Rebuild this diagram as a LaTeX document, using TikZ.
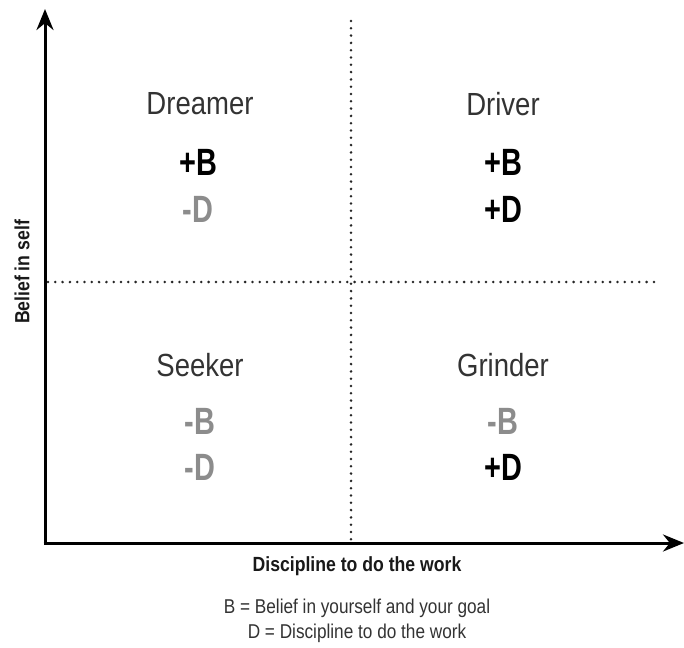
\documentclass[tikz,border=0pt]{standalone}
\usepackage{fontspec}
\setmainfont[FakeStretch=0.86]{Liberation Sans}
\newfontfamily\boldcond[FakeStretch=0.76]{Liberation Sans Bold}
\usetikzlibrary{arrows.meta}
\definecolor{txtdark}{HTML}{333333}
\definecolor{txtgray}{HTML}{8C8C8C}
\begin{document}
\begin{tikzpicture}[x=1pt,y=-1pt,
  axis/.style={line width=3pt,draw=black,-{Stealth[length=21pt,width=17pt]}},
  divider/.style={line width=2.8pt,draw=black!85,line cap=round,dash pattern=on 0pt off 7.3pt},
  quadname/.style={font=\fontsize{32}{34}\selectfont,text=txtdark,inner sep=0pt},
  plustext/.style={font=\boldcond\fontsize{38}{39}\selectfont,text=black,inner sep=0pt},
  minustext/.style={font=\boldcond\fontsize{38}{39}\selectfont,text=txtgray,inner sep=0pt},
  axlabel/.style={font=\bfseries\fontsize{20.5}{21}\selectfont,text=black!90,inner sep=0pt},
  legend/.style={font=\fontsize{20}{25}\selectfont,text=txtdark,inner sep=0pt,align=center}]
\useasboundingbox (0,0) rectangle (684,647);
\fill[white] (0,0) rectangle (684,647);
% coordinates
\coordinate (origin) at (45,543);
\coordinate (ytip) at (45,9);
\coordinate (xtip) at (684,543);
\coordinate (vtop) at (351,21);
\coordinate (vbot) at (351,540);
\coordinate (hleft) at (48,282);
\coordinate (hright) at (658,282);
% dividers
\draw[divider] (vtop) -- (vbot);
\draw[divider] (hleft) -- (hright);
% axes
\draw[axis] (origin) -- (ytip);
\draw[axis] ([xshift=-1.5pt]origin) -- (xtip);
% quadrant texts
\node[quadname] (dreamer) at (200,104) {Dreamer};
\node[plustext] (dreamerB) at (198,162) {+B};
\node[minustext] (dreamerD) at (198,209) {-D};
\node[quadname] (driver) at (503,104) {Driver};
\node[plustext] (driverB) at (503,162) {+B};
\node[plustext] (driverD) at (503,209) {+D};
\node[quadname] (seeker) at (200,365) {Seeker};
\node[minustext] (seekerB) at (200,421) {-B};
\node[minustext] (seekerD) at (200,467) {-D};
\node[quadname] (grinder) at (503,365) {Grinder};
\node[minustext] (grinderB) at (503,421) {-B};
\node[plustext] (grinderD) at (503,467) {+D};
% axis labels
\node[axlabel,rotate=90] (ylabel) at (22,272) {Belief in self};
\node[axlabel] (xlabel) at (357,566) {Discipline to do the work};
\node[legend] (legendtxt) at (357,621) {B = Belief in yourself and your goal\\D = Discipline to do the work};
\end{tikzpicture}
\end{document}
